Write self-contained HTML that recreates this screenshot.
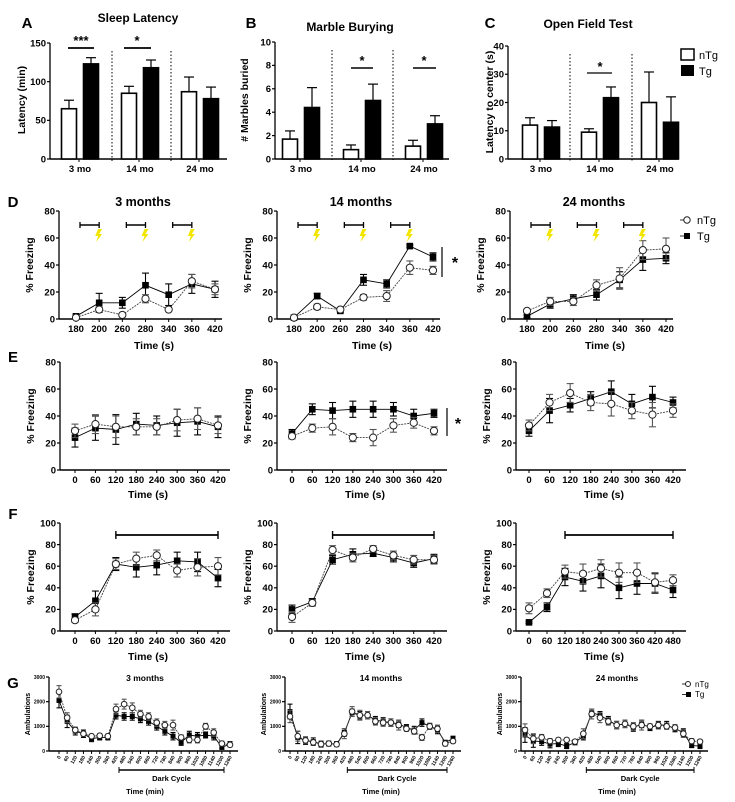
<!DOCTYPE html>
<html><head><meta charset="utf-8"><style>
html,body{margin:0;padding:0;background:#fff}
svg{display:block;font-family:"Liberation Sans Narrow","Liberation Sans",Arial,sans-serif}
</style></head><body>
<svg id="fig" width="735" height="802" viewBox="0 0 735 802" xmlns="http://www.w3.org/2000/svg"></svg>
<script>
// ---- Bar chart data (A-C) ----
const barGroups = ["3 mo","14 mo","24 mo"];
const sleepNTg = [65,85,87];
const sleepTg = [123,118,78];
const sleepNTgErr = [11,9,19];
const sleepTgErr = [8,10,15];
const sleepTicks = [0,50,100,150];
const marbleNTg = [1.7,0.8,1.1];
const marbleTg = [4.4,5.0,3.0];
const marbleNTgErr = [0.7,0.4,0.5];
const marbleTgErr = [1.7,1.4,0.7];
const marbleTicks = [0,2,4,6,8,10];
const ofNTg = [12,9.5,20];
const ofTg = [11.3,21.7,13];
const ofNTgErr = [2.6,1.2,10.8];
const ofTgErr = [2.3,3.8,9];
const ofTicks = [0,10,20,30,40];
// ---- D ----
const dTimes = ["180","200","260","280","340","360","420"];
const d3NTg = [1,7,3,15,7,28,22];
const d3NTgErr = [1,2,1,3,1,5,4];
const d3Tg = [2,12,12,25,18,26,22];
const d3TgErr = [1,7,4,9,8,7,6];
const d14NTg = [1,9,7,16,17,38,36];
const d14NTgErr = [1,2,1,2,4,5,3];
const d14Tg = [1,17,6,29,26,54,46];
const d14TgErr = [1,2,1,4,3,1,3];
const d24NTg = [6,13,13,25,30,51,52];
const d24NTgErr = [1,3,3,4,8,7,8];
const d24Tg = [2,11,15,18,29,44,45];
const d24TgErr = [1,3,3,4,6,8,4];
const freezeTicks80 = [0,20,40,60,80];
// ---- E ----
const eTimes = ["0","60","120","180","240","300","360","420"];
const e3NTg = [29,34,32,32,32,37,38,33];
const e3NTgErr = [5,7,8,6,6,8,8,6];
const e3Tg = [24,31,30,34,33,35,36,32];
const e3TgErr = [7,9,11,8,7,10,10,8];
const e14NTg = [25,31,32,24,24,33,35,29];
const e14NTgErr = [2,3,6,3,6,5,4,3];
const e14Tg = [27,45,44,45,45,45,40,42];
const e14TgErr = [3,4,6,6,6,5,5,3];
const e24NTg = [33,50,57,50,49,44,41,44];
const e24NTgErr = [4,6,7,6,9,6,9,5];
const e24Tg = [29,44,48,53,58,49,54,50];
const e24TgErr = [4,9,5,5,8,7,8,4];
// ---- F ----
const fTimes = ["0","60","120","180","240","300","360","420"];
const fTimes24 = ["0","60","120","180","240","300","360","420","480"];
const freezeTicks100 = [0,20,40,60,80,100];
const f3NTg = [10,20,62,67,70,56,59,60];
const f3NTgErr = [2,6,5,6,5,6,8,8];
const f3Tg = [13,28,62,59,61,65,64,49];
const f3TgErr = [3,9,6,9,9,8,9,8];
const f14NTg = [13,26,75,68,76,70,66,66];
const f14NTgErr = [5,3,4,4,3,4,4,4];
const f14Tg = [20,27,66,71,72,68,63,67];
const f14TgErr = [4,3,4,5,3,4,4,4];
const f24NTg = [21,35,55,53,58,54,54,45,47];
const f24NTgErr = [5,4,6,9,8,9,9,9,5];
const f24Tg = [8,22,50,46,51,40,44,44,38];
const f24TgErr = [1,4,8,9,11,10,10,9,7];
// ---- G ----
const gTimes = ["0","60","120","180","240","300","360","420","480","540","600","660","720","780","840","900","960","1020","1080","1140","1200","1260"];
const gTicks = [0,1000,2000,3000];
const g3NTg = [2400,1350,850,700,600,620,600,1700,1900,1750,1500,1400,1150,1050,1050,550,450,450,1000,750,300,250];
const g3Tg = [2050,1200,800,700,500,550,550,1450,1400,1400,1300,1200,1000,800,600,350,650,600,650,600,150,280];
const g14NTg = [1400,600,430,350,280,300,270,700,1600,1450,1450,1200,1150,1150,1050,900,800,550,1000,900,300,400];
const g14Tg = [1600,550,420,380,280,300,280,750,1550,1450,1450,1250,1200,1150,1100,950,850,1150,1000,850,350,500];
const g24NTg = [850,500,550,400,450,450,380,700,1500,1350,1200,1050,1100,1000,1050,1000,1050,1000,950,700,400,380];
const g24Tg = [650,400,380,280,300,200,350,600,1550,1450,1250,1050,1100,950,1100,950,1050,1050,900,750,220,200];
const gErrN = [250,200,120,100,80,80,80,200,200,200,150,150,150,150,200,100,120,120,120,150,100,80];
const gErrT = [300,250,150,150,120,100,100,150,150,150,150,150,150,150,150,120,150,150,120,150,80,100];

const NS="http://www.w3.org/2000/svg";
const svg=document.getElementById('fig');
function mk(tag,attrs,name){
  const el=document.createElementNS(NS,tag);
  for(const k in attrs) el.setAttribute(k,attrs[k]);
  
  
  svg.appendChild(el);return el;
}
function line(x1,y1,x2,y2,w,name,dash,col){
  const a={x1,y1,x2,y2,stroke:col||'#000','stroke-width':w};
  if(dash)a['stroke-dasharray']=dash;
  return mk('line',a,name);
}
function text(x,y,s,size,anchor,weight,name,rot){
  const a={x,y,'font-size':size,'text-anchor':anchor||'middle','font-weight':weight||'bold',fill:'#000'};
  if(rot)a.transform='rotate('+rot+' '+x+' '+y+')';
  const t=mk('text',a,name);t.textContent=s;return t;
}
function yAxis(ax,y0,ytop,ymax,ticks,fs,name){
  line(ax,ytop,ax,y0,1.3,name+'-y-axis');
  const sc=v=>y0-(v/ymax)*(y0-ytop);
  ticks.forEach(t=>{line(ax-3,sc(t),ax,sc(t),1.2,name+'-y-tick');
    text(ax-4,sc(t)+fs*0.35,String(t),fs,'end','bold',name+'-y-tick-label');});
  return sc;
}
function barPanel(p){
  const sc=yAxis(p.ax,p.y0,p.ytop,p.ymax,p.ticks,9.5,p.name);
  line(p.ax,p.y0,p.xend,p.y0,1.5,p.name+'-x-axis');
  p.seps.forEach(x=>line(x,p.ytop+8,x,p.y0+2,1,p.name+'-separator','1.5,2'));
  barGroups.forEach((g,i)=>{
    const gc=p.gcs[i];
    [[p.n,p.en,'#fff','ntg'],[p.t,p.et,'#000','tg']].forEach((s,k)=>{
      const cx=gc+(k?11:-11),v=s[0][i],e=s[1][i];
      line(cx,sc(v),cx,sc(v+e),1.2,p.name+'-errorbar-'+s[3]);
      line(cx-5,sc(v+e),cx+5,sc(v+e),1.2,p.name+'-errorcap-'+s[3]);
      mk('rect',{x:cx-7.5,y:sc(v),width:15,height:p.y0-sc(v),fill:s[2],stroke:'#000','stroke-width':1.6},p.name+'-bar-'+s[3]+'-'+i);
    });
    line(gc-1,p.y0,gc-1,p.y0+3,1,p.name+'-x-tick');
    text(gc,p.y0+13,g,9.5,'middle','bold',p.name+'-x-label');
  });
}
function linePanel(p){
  const sc=yAxis(p.ax,p.y0,p.ytop,p.ymax,p.ticks,p.fs||9.5,p.name);
  line(p.ax,p.y0,p.xend,p.y0,1.5,p.name+'-x-axis');
  const n=p.cats.length,xs=i=>p.first+i*(p.last-p.first)/(n-1);
  p.cats.forEach((c,i)=>{
    line(xs(i),p.y0,xs(i),p.y0+3,1,p.name+'-x-tick');
    if(p.rot) text(xs(i)+2,p.y0+6,c,5,'end','bold',p.name+'-x-label',-60);
    else text(xs(i),p.y0+13,c,9.5,'middle','bold',p.name+'-x-label');
  });
  const ser=[[p.t,p.et,'tg','#000'],[p.n,p.en,'ntg','#444']];
  ser.forEach(s=>{
    let d='';s[0].forEach((v,i)=>{d+=(i?'L':'M')+xs(i).toFixed(1)+','+sc(v).toFixed(1);});
    mk('path',{d,fill:'none',stroke:s[3],'stroke-width':0.9,'stroke-dasharray':s[2]=='tg'?'':'2,1'},p.name+'-line-'+s[2]);
  });
  ser.forEach(s=>{
    s[0].forEach((v,i)=>{const e=s[1][i],x=xs(i),cw=p.rot?2.5:3.5;
      line(x,sc(v-e),x,sc(v+e),1.1,p.name+'-errorbar-'+s[2],null,s[2]=='tg'?'#000':'#555');
      line(x-cw,sc(v+e),x+cw,sc(v+e),1.1,p.name+'-errorcap-'+s[2],null,s[2]=='tg'?'#000':'#555');
      line(x-cw,sc(v-e),x+cw,sc(v-e),1.1,p.name+'-errorcap-'+s[2],null,s[2]=='tg'?'#000':'#555');
      const r=p.rot?2.5:3.3;
      if(s[2]=='tg') mk('rect',{x:x-r,y:sc(v)-r,width:2*r,height:2*r,fill:'#000'},p.name+'-point-tg-'+i);
      else mk('circle',{cx:x,cy:sc(v),r:r+0.3,fill:'#fff',stroke:'#222','stroke-width':1},p.name+'-point-ntg-'+i);
    });
  });
  return {sc,xs};
}
// ---- Row A-C ----
text(27,28,'A',15,'middle','bold','panel-label-a');
text(138,22,'Sleep Latency',12,'middle','bold','title-sleep-latency');
text(25,100,'Latency (min)',10.5,'middle','bold','y-axis-title-latency',-90);
barPanel({name:'sleep',ax:50,y0:159,ytop:43,ymax:150,ticks:sleepTicks,xend:227,gcs:[80,140,200],seps:[112,171],n:sleepNTg,t:sleepTg,en:sleepNTgErr,et:sleepTgErr});
line(68,48,94,48,1.8,'sig-line-3mo');text(81,45,'***',13,'middle','bold','sig-stars-3mo');
line(124,48,151,48,1.8,'sig-line-14mo');text(137,45,'*',13,'middle','bold','sig-star-14mo');

text(251,28,'B',15,'middle','bold','panel-label-b');
text(350,31,'Marble Burying',12,'middle','bold','title-marble-burying');
text(248,100,'# Marbles buried',10.5,'middle','bold','y-axis-title-marbles',-90);
barPanel({name:'marble',ax:275,y0:159,ytop:42,ymax:10,ticks:marbleTicks,xend:449,gcs:[301,362,424],seps:[332,393],n:marbleNTg,t:marbleTg,en:marbleNTgErr,et:marbleTgErr});
line(351,68,373,68,1.5,'sig-line-14mo-b');text(362,65,'*',13,'middle','bold','sig-star-14mo-b');
line(413,68,436,68,1.5,'sig-line-24mo-b');text(424,65,'*',13,'middle','bold','sig-star-24mo-b');

text(490,28,'C',15,'middle','bold','panel-label-c');
text(588,28,'Open Field Test',12,'middle','bold','title-open-field');
text(493,102,'Latency to center (s)',10.5,'middle','bold','y-axis-title-center',-90);
barPanel({name:'openfield',ax:508,y0:159,ytop:46,ymax:40,ticks:ofTicks,xend:678,gcs:[541,600,660],seps:[570,632],n:ofNTg,t:ofTg,en:ofNTgErr,et:ofTgErr});
line(587,73,612,73,1.2,'sig-line-14mo-c');text(600,71,'*',13,'middle','bold','sig-star-14mo-c');
mk('rect',{x:681,y:49,width:13,height:11,fill:'#fff',stroke:'#000','stroke-width':1.5},'legend-swatch-ntg');
text(699,59,'nTg',11,'start','normal','legend-label-ntg');
mk('rect',{x:681,y:65,width:13,height:11,fill:'#000'},'legend-swatch-tg');
text(699,75,'Tg',11,'start','normal','legend-label-tg');

// ---- Row D ----
text(13,207,'D',15,'middle','bold','panel-label-d');
const dAx=[59,277,510],dTitles=['3 months','14 months','24 months'];
const dN=[d3NTg,d14NTg,d24NTg],dNE=[d3NTgErr,d14NTgErr,d24NTgErr],dT=[d3Tg,d14Tg,d24Tg],dTE=[d3TgErr,d14TgErr,d24TgErr];
dAx.forEach((ax,k)=>{
  text(ax+84,206,dTitles[k],12.5,'middle','bold','title-d-'+k);
  text(ax-26,265,'% Freezing',10.5,'middle','bold','y-axis-title-d-'+k,-90);
  const r=linePanel({name:'d'+k,ax,y0:319,ytop:211,ymax:80,ticks:freezeTicks80,xend:ax+163,first:ax+17,last:ax+156,cats:dTimes,n:dN[k],en:dNE[k],t:dT[k],et:dTE[k]});
  text(ax+95,349,'Time (s)',10.5,'middle','bold','x-axis-title-d-'+k);
  [[0,1],[2,3],[4,5]].forEach((pr,j)=>{
    const x1=r.xs(pr[0])+4,x2=r.xs(pr[1]);
    line(x1,225,x2,225,1.6,'tone-bracket');line(x1,222,x1,228,1.3,'tone-bracket-end');line(x2,222,x2,228,1.3,'tone-bracket-end');
    mk('path',{d:`M${x2-1},229 L${x2+3},229 L${x2},234 L${x2+3},234 L${x2-3},242 L${x2-1},236 L${x2-4},236 Z`,fill:'#f2e600'},'shock-icon');
  });
});
line(442,247,442,277,1.2,'sig-line-d14');text(455,268,'*',16,'middle','bold','sig-star-d14');
mk('circle',{cx:687,cy:220,r:3.2,fill:'#fff',stroke:'#222','stroke-width':1},'legend-marker-ntg-d');
line(680,220,684,220,0.8,'legend-line-ntg-d');
text(697,224,'nTg',11,'start','normal','legend-label-ntg-d');
mk('rect',{x:684,y:233,width:6,height:6,fill:'#000'},'legend-marker-tg-d');
line(680,236,684,236,0.8,'legend-line-tg-d');
text(697,240,'Tg',11,'start','normal','legend-label-tg-d');

// ---- Row E ----
text(13,362,'E',15,'middle','bold','panel-label-e');
const eAx=[60,277,516],eFirst=[75,292,529],eLast=[218,434,673];
const eN=[e3NTg,e14NTg,e24NTg],eNE=[e3NTgErr,e14NTgErr,e24NTgErr],eT=[e3Tg,e14Tg,e24Tg],eTE=[e3TgErr,e14TgErr,e24TgErr];
eAx.forEach((ax,k)=>{
  text(ax-26,416,'% Freezing',10.5,'middle','bold','y-axis-title-e-'+k,-90);
  linePanel({name:'e'+k,ax,y0:470,ytop:362,ymax:80,ticks:freezeTicks80,xend:ax+170,first:eFirst[k],last:eLast[k],cats:eTimes,n:eN[k],en:eNE[k],t:eT[k],et:eTE[k]});
  text(ax+88,498,'Time (s)',10.5,'middle','bold','x-axis-title-e-'+k);
});
line(447,408,447,436,1.2,'sig-line-e14');text(458,429,'*',16,'middle','bold','sig-star-e14');

// ---- Row F ----
text(13,519,'F',15,'middle','bold','panel-label-f');
const fN=[f3NTg,f14NTg,f24NTg],fNE=[f3NTgErr,f14NTgErr,f24NTgErr],fT=[f3Tg,f14Tg,f24Tg],fTE=[f3TgErr,f14TgErr,f24TgErr];
eAx.forEach((ax,k)=>{
  text(ax-26,577,'% Freezing',10.5,'middle','bold','y-axis-title-f-'+k,-90);
  const r=linePanel({name:'f'+k,ax,y0:631,ytop:523,ymax:100,ticks:freezeTicks100,xend:ax+170,first:eFirst[k],last:eLast[k],cats:k==2?fTimes24:fTimes,n:fN[k],en:fNE[k],t:fT[k],et:fTE[k]});
  text(ax+88,660,'Time (s)',10.5,'middle','bold','x-axis-title-f-'+k);
  const lastIdx=(k==2?fTimes24:fTimes).length-1,x1=r.xs(2),x2=r.xs(lastIdx);
  line(x1,535,x2,535,1.8,'context-bracket');line(x1,531,x1,539,1.4,'context-bracket-end');line(x2,531,x2,539,1.4,'context-bracket-end');
});

// ---- Row G ----
text(13,688,'G',15,'middle','bold','panel-label-g');
const gAx=[49,285,521],gFirst=[59,290,525],gLast=[230,453,700],gTitles=['3 months','14 months','24 months'];
const gN=[g3NTg,g14NTg,g24NTg],gT=[g3Tg,g14Tg,g24Tg];
gAx.forEach((ax,k)=>{
  text(ax+96,681,gTitles[k],8.5,'middle','bold','title-g-'+k);
  text(ax-19,714,'Ambulations',7,'middle','bold','y-axis-title-g-'+k,-90);
  const r=linePanel({name:'g'+k,ax,y0:751,ytop:677,ymax:3000,ticks:gTicks,fs:5,xend:gLast[k]+8,first:gFirst[k],last:gLast[k],cats:gTimes,n:gN[k],en:gErrN,t:gT[k],et:gErrT,rot:true});
  const x1=r.xs(7)+3,x2=r.xs(21)-6;
  line(x1,770,x2,770,1.4,'dark-cycle-bar-g-'+k);line(x1,767,x1,773,1,'dark-cycle-bar-end');line(x2,767,x2,773,1,'dark-cycle-bar-end');
  text((x1+x2)/2,781,'Dark Cycle',7.5,'middle','bold','dark-cycle-label-g-'+k);
  text(ax+96,794,'Time (min)',7.5,'middle','bold','x-axis-title-g-'+k);
});
mk('circle',{cx:688,cy:684,r:2.5,fill:'#fff',stroke:'#222','stroke-width':1},'legend-marker-ntg-g');
line(682,684,686,684,0.8,'legend-line-ntg-g');
text(695,687,'nTg',8,'start','normal','legend-label-ntg-g');
mk('rect',{x:686,y:692,width:5,height:5,fill:'#000'},'legend-marker-tg-g');
line(682,694.5,686,694.5,0.8,'legend-line-tg-g');
text(695,697,'Tg',8,'start','normal','legend-label-tg-g');
</script>
</body></html>
